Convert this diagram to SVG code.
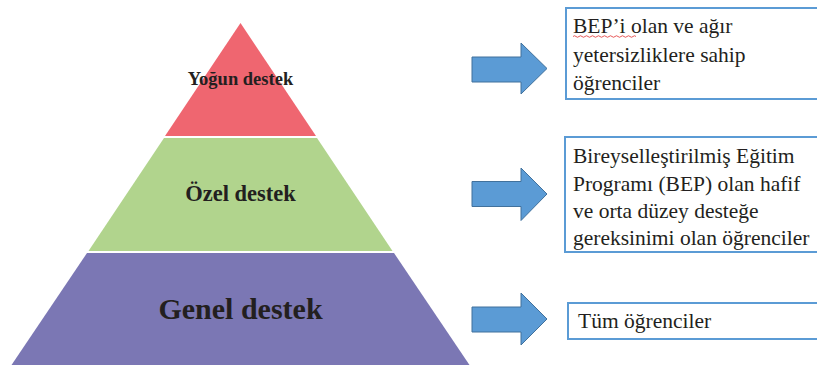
<svg xmlns="http://www.w3.org/2000/svg" width="817" height="367" viewBox="0 0 817 367">
<defs>
<style>
.lvl{font-family:"Liberation Serif","Times New Roman",serif;font-weight:bold;fill:#231f20;text-anchor:middle}
.box{fill:#ffffff;stroke:#5b9bd5;stroke-width:2}
.txt{font-family:"Liberation Serif","Times New Roman",serif;font-size:21.5px;fill:#231f20}
.arrow{fill:#5b9bd5;stroke:#41719c;stroke-width:1}
</style>
</defs>
<rect width="817" height="367" fill="#ffffff"/>
<g id="level-top">
<polygon points="240.5,23 316,136 165,136" fill="#ef6670"/>
<text class="lvl" x="240.5" y="85" font-size="18.5">Yoğun destek</text>
</g>
<g id="level-middle">
<polygon points="164,138 317,138 392.5,251 88.5,251" fill="#b1d48d"/>
<text class="lvl" x="240.5" y="201" font-size="22.5">Özel destek</text>
</g>
<g id="level-bottom">
<polygon points="87,253 394,253 469.5,365 11.5,365" fill="#7b77b4"/>
<text class="lvl" x="240.5" y="319" font-size="30">Genel destek</text>
</g>
<g id="connectors">
<polygon class="arrow" points="472,57 521,57 521,43 547,68.5 521,94 521,82 472,82"/>
<polygon class="arrow" points="472,181.5 521,181.5 521,168 547,194 521,220.5 521,206.5 472,206.5"/>
<polygon class="arrow" points="472,307 521,307 521,293 547,319 521,345 521,332 472,332"/>
</g>
<g id="box-top">
<rect class="box" x="566" y="8" width="260" height="91"/>
<text class="txt"><tspan x="573" y="33">BEP’i olan ve ağır</tspan><tspan x="573" y="62">yetersizliklere sahip</tspan><tspan x="573" y="90">öğrenciler</tspan></text>
<path d="M573,36.5 q1.5,-1.5 3,0 t3,0 t3,0 t3,0 t3,0 t3,0 t3,0 t3,0 t3,0 t3,0 t3,0 t3,0 t3,0 t3,0 t3,0 t3,0 t3,0 t3,0 t3,0 t3,0 t3,0" fill="none" stroke="#e03030" stroke-width="0.8"/>
</g>
<g id="box-middle">
<rect class="box" x="565" y="137" width="262" height="115"/>
<text class="txt"><tspan x="573" y="163">Bireyselleştirilmiş Eğitim</tspan><tspan x="573" y="191">Programı (BEP) olan hafif</tspan><tspan x="573" y="218">ve orta düzey desteğe</tspan><tspan x="573" y="245">gereksinimi olan öğrenciler</tspan></text>
</g>
<g id="box-bottom">
<rect class="box" x="568" y="303" width="260" height="36"/>
<text class="txt" x="578" y="327.5">Tüm öğrenciler</text>
</g>
</svg>
